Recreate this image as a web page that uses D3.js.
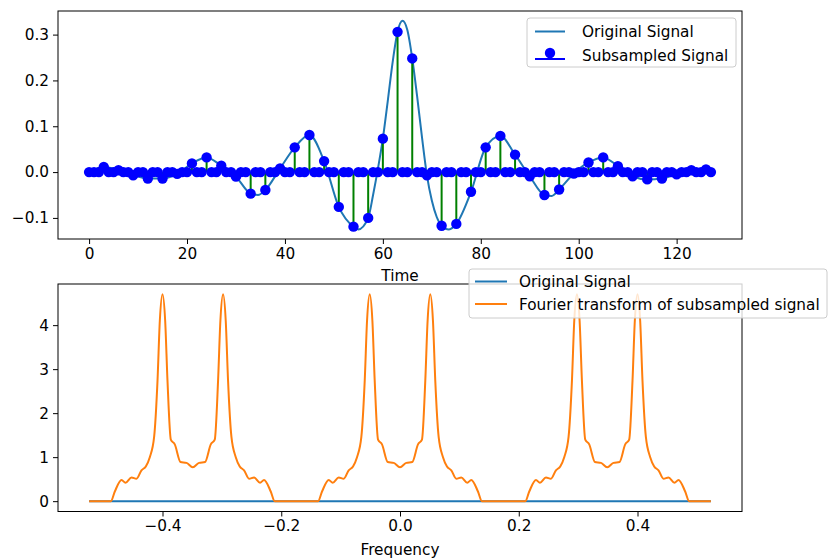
<!DOCTYPE html>
<html><head><meta charset="utf-8">
<script src="https://cdn.jsdelivr.net/npm/d3@7"></script>
<style>body{margin:0;background:#fff}svg{display:block}text{font-family:"DejaVu Sans",sans-serif;fill:#000}</style>
</head><body><svg id="c" width="828" height="560"></svg>
<script>
// ---- top chart data ----
const origT = [0,3,6,9,12,15,18,21,24,27,30,33,34.5,36,39,42,45,48,51,54,55,57,58,59,60,61,62,63,64,65,66,67,68,69,70,71,72,73.5,75,78,81,84,87,90,93,94.5,96,99,102,105,108,111,114,117,120,123,126,127];
const origV = [0,0.011,0.004,-0.007,-0.014,-0.014,-0.004,0.019,0.032,0.014,-0.010,-0.047,-0.050,-0.039,0.008,0.054,0.081,0.024,-0.076,-0.119,-0.125,-0.100,-0.050,0.008,0.073,0.155,0.240,0.306,0.330,0.310,0.248,0.165,0.075,-0.007,-0.062,-0.098,-0.117,-0.125,-0.113,-0.043,0.054,0.079,0.038,-0.009,-0.050,-0.052,-0.038,-0.003,0.021,0.032,0.013,-0.009,-0.016,-0.014,-0.005,0.004,0.006,0.004];
const subV = [
 0,0,0, 0.011,0,0, 0.004,0,0, -0.007,0,0, -0.014,0,0, -0.014,0,0, -0.004,0,0, 0.019,0,0,
 0.032,0,0, 0.014,0,0, -0.010,0,0, -0.047,0,0, -0.039,0,0, 0.008,0,0, 0.054,0,0, 0.081,0,0,
 0.024,0,0, -0.076,0,0, -0.119,0,0, -0.100,0,0, 0.073,0,0, 0.306,0,0, 0.248,0,0, -0.007,0,0,
 -0.117,0,0, -0.113,0,0, -0.043,0,0, 0.054,0,0, 0.079,0,0, 0.038,0,0, -0.009,0,0, -0.050,0,0,
 -0.038,0,0, -0.003,0,0, 0.021,0,0, 0.032,0,0, 0.013,0,0, -0.009,0,0, -0.016,0,0, -0.014,0,0,
 -0.005,0,0, 0.004,0,0, 0.006,0];
const topXTicks = [0,20,40,60,80,100,120];
const topYTicks = [-0.1,0.0,0.1,0.2,0.3];

// ---- bottom chart data ----
const freqF = [-0.5236,-0.487,-0.4803,-0.469,-0.4623,-0.4522,-0.4438,-0.4354,-0.4281,-0.4214,-0.4141,-0.4084,-0.4045,-0.400,-0.3955,-0.3916,-0.386,-0.3793,-0.3697,-0.3596,-0.349,-0.3384,-0.3283,-0.3187,-0.312,-0.3064,-0.3025,-0.298,-0.2935,-0.2896,-0.2839,-0.2766,-0.2699,-0.2626,-0.2542,-0.2458,-0.2357,-0.229,-0.2177,-0.211,
 -0.138,-0.1313,-0.120,-0.1133,-0.1032,-0.0948,-0.0864,-0.0791,-0.0724,-0.0651,-0.0594,-0.0555,-0.051,-0.0465,-0.0426,-0.037,-0.0303,-0.0207,-0.0106,0,0.0106,0.0207,0.0303,0.037,0.0426,0.0465,0.051,0.0555,0.0594,0.0651,0.0724,0.0791,0.0864,0.0948,0.1032,0.1133,0.120,0.1313,0.138,
 0.211,0.2177,0.229,0.2357,0.2458,0.2542,0.2626,0.2699,0.2766,0.2839,0.2896,0.2935,0.298,0.3025,0.3064,0.312,0.3187,0.3283,0.3384,0.349,0.3596,0.3697,0.3793,0.386,0.3916,0.3955,0.400,0.4045,0.4084,0.4141,0.4214,0.4281,0.4354,0.4438,0.4522,0.4623,0.469,0.4803,0.487,0.5236];
const fftMag = [0,0,0.22,0.48,0.42,0.54,0.51,0.70,0.79,1.00,1.46,2.74,4.10,4.70,4.10,2.74,1.40,1.29,0.89,0.87,0.77,0.87,0.89,1.29,1.40,2.74,4.10,4.70,4.10,2.74,1.46,1.00,0.79,0.70,0.51,0.54,0.42,0.48,0.22,0,
 0,0.22,0.48,0.42,0.54,0.51,0.70,0.79,1.00,1.46,2.74,4.10,4.70,4.10,2.74,1.40,1.29,0.89,0.87,0.77,0.87,0.89,1.29,1.40,2.74,4.10,4.70,4.10,2.74,1.46,1.00,0.79,0.70,0.51,0.54,0.42,0.48,0.22,0,
 0,0.22,0.48,0.42,0.54,0.51,0.70,0.79,1.00,1.46,2.74,4.10,4.70,4.10,2.74,1.40,1.29,0.89,0.87,0.77,0.87,0.89,1.29,1.40,2.74,4.10,4.70,4.10,2.74,1.46,1.00,0.79,0.70,0.51,0.54,0.42,0.48,0.22,0,0];
const origFreqF = [-0.5236,0.5236];
const origFreqV = [0,0];
const botXTicks = [-0.4,-0.2,0.0,0.2,0.4];
const botYTicks = [0,1,2,3,4];

const svg = d3.select("#c");
const fs = "15.3px";
const fmt = d => d3.format(".1f")(d).replace("-", "\u2212");

function frame(g, x, y, xt, yt, xf, yf) {
  const [x0,x1] = x.range(), [y1,y0] = y.range();
  const ax = g.append("g").attr("transform",`translate(0,${y1})`).call(d3.axisBottom(x).tickValues(xt).tickFormat(xf).tickSize(5).tickPadding(4));
  const ay = g.append("g").attr("transform",`translate(${x0},0)`).call(d3.axisLeft(y).tickValues(yt).tickFormat(yf).tickSize(5).tickPadding(4));
  [ax,ay].forEach(a=>{a.select(".domain").remove();a.selectAll("text").style("font-size",fs).style("font-family","DejaVu Sans");a.selectAll("line").attr("stroke","#000");});
  g.append("rect").attr("x",x0).attr("y",y0).attr("width",x1-x0).attr("height",y1-y0).attr("fill","none").attr("stroke","#000").attr("stroke-width",1);
}

// ---- top chart ----
const xT = d3.scaleLinear().domain([-6.35,133.35]).range([58,742]);
const yT = d3.scaleLinear().domain([-0.146,0.3515]).range([239,11]);
const gT = svg.append("g");
gT.append("path").datum(origT.map((t,i)=>[t,origV[i]]))
  .attr("d", d3.line().x(d=>xT(d[0])).y(d=>yT(d[1])).curve(d3.curveMonotoneX))
  .attr("fill","none").attr("stroke","#1f77b4").attr("stroke-width",2);
const subT = subV.map((v,i)=>i);
gT.selectAll("line.stem").data(subT).enter().append("line")
  .attr("x1",t=>xT(t)).attr("x2",t=>xT(t)).attr("y1",yT(0)).attr("y2",t=>yT(subV[t]))
  .attr("stroke","#008000").attr("stroke-width",2);
gT.selectAll("circle").data(subT).enter().append("circle")
  .attr("cx",t=>xT(t)).attr("cy",t=>yT(subV[t])).attr("r",5.2).attr("fill","#0000ff");
frame(gT,xT,yT,topXTicks,topYTicks,d3.format("d"),fmt);
gT.append("text").attr("x",400).attr("y",281).attr("text-anchor","middle").style("font-size",fs).text("Time");
// legend top
const lgT = gT.append("g");
lgT.append("rect").attr("x",527).attr("y",18).attr("width",209).attr("height",49).attr("rx",3)
  .attr("fill","rgba(255,255,255,0.8)").attr("stroke","#ccc");
lgT.append("line").attr("x1",535).attr("x2",565).attr("y1",31.5).attr("y2",31.5).attr("stroke","#1f77b4").attr("stroke-width",2);
lgT.append("text").attr("x",582).attr("y",37).style("font-size",fs).text("Original Signal");
lgT.append("line").attr("x1",535).attr("x2",565).attr("y1",59).attr("y2",59).attr("stroke","#0000ff").attr("stroke-width",2);
lgT.append("circle").attr("cx",550).attr("cy",53).attr("r",5.2).attr("fill","#0000ff");
lgT.append("text").attr("x",582).attr("y",61).style("font-size",fs).text("Subsampled Signal");

// ---- bottom chart ----
const xB = d3.scaleLinear().domain([-0.576,0.576]).range([58,742]);
const yB = d3.scaleLinear().domain([-0.235,4.935]).range([511.5,284]);
const gB = svg.append("g");
gB.append("path").datum(origFreqF.map((f,i)=>[f,origFreqV[i]]))
  .attr("d", d3.line().x(d=>xB(d[0])).y(d=>yB(d[1])))
  .attr("fill","none").attr("stroke","#1f77b4").attr("stroke-width",2);
gB.append("path").datum(freqF.map((f,i)=>[f,fftMag[i]]))
  .attr("d", d3.line().x(d=>xB(d[0])).y(d=>yB(d[1])).curve(d3.curveMonotoneX))
  .attr("fill","none").attr("stroke","#ff7f0e").attr("stroke-width",2);
frame(gB,xB,yB,botXTicks,botYTicks,fmt,d3.format("d"));
gB.append("text").attr("x",400).attr("y",555).attr("text-anchor","middle").style("font-size",fs).text("Frequency");
const lgB = gB.append("g");
lgB.append("rect").attr("x",469).attr("y",269).attr("width",358).attr("height",49).attr("rx",3)
  .attr("fill","rgba(255,255,255,0.8)").attr("stroke","#ccc");
lgB.append("line").attr("x1",475).attr("x2",507).attr("y1",281.5).attr("y2",281.5).attr("stroke","#1f77b4").attr("stroke-width",2);
lgB.append("text").attr("x",519).attr("y",287).style("font-size",fs).text("Original Signal");
lgB.append("line").attr("x1",475).attr("x2",507).attr("y1",304).attr("y2",304).attr("stroke","#ff7f0e").attr("stroke-width",2);
lgB.append("text").attr("x",519).attr("y",309.5).style("font-size",fs).text("Fourier transform of subsampled signal");
</script></body></html>
